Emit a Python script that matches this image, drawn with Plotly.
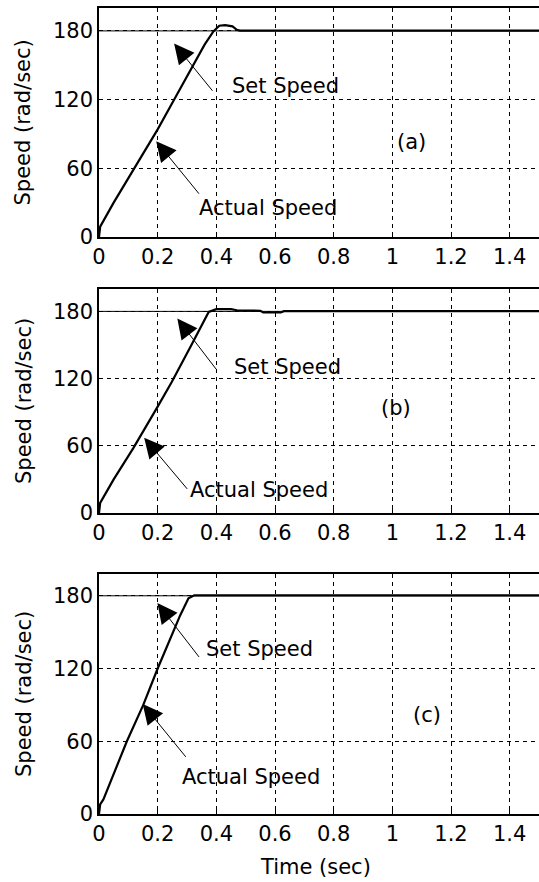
import plotly.graph_objects as go

# ---------------- data ----------------
x_ticks = [0, 0.2, 0.4, 0.6, 0.8, 1, 1.2, 1.4]
x_tick_labels = ["0", "0.2", "0.4", "0.6", "0.8", "1", "1.2", "1.4"]
y_ticks = [0, 60, 120, 180]
y_tick_labels = ["0", "60", "120", "180"]

set_time = [0, 1.5]
set_speed = [180, 180]

a_time = [0, 0.004, 0.05, 0.117, 0.2, 0.254, 0.311, 0.36, 0.39, 0.397, 0.41, 0.43, 0.455, 0.47, 0.48, 1.5]
a_speed = [0, 9, 30, 59, 94, 119, 146, 168, 179.5, 181, 184.5, 185, 184, 181, 180.2, 180.2]

b_time = [0, 0.004, 0.05, 0.117, 0.2, 0.248, 0.311, 0.35, 0.374, 0.4, 0.45, 0.47, 0.55, 0.56, 0.62, 0.63, 1.5]
b_speed = [0, 9, 30, 58, 95, 117, 148, 167, 179.5, 182, 182, 181, 180.5, 179, 179, 180.2, 180.2]

c_time = [0, 0.004, 0.015, 0.095, 0.151, 0.2, 0.277, 0.305, 0.325, 1.5]
c_speed = [0, 8, 12, 60, 90, 120, 164, 178, 180.4, 180.4]

panel_labels = ["(a)", "(b)", "(c)"]
panel_label_pos = [(1.067, 82.6), (1.012, 94), (1.117, 81.6)]
# arrow tip (x, y), arrow tail (ax, ay), text position (tx, ty)
set_arrows = [((0.256, 169), (0.391, 126.4), (0.448, 132)),
              ((0.267, 173.6), (0.403, 127.2), (0.453, 130)),
              ((0.199, 174), (0.345, 128.3), (0.357, 136))]
act_arrows = [((0.195, 83.7), (0.345, 36.5), (0.334, 25.2)),
              ((0.154, 67.2), (0.305, 20.2), (0.305, 20.2)),
              ((0.149, 90.7), (0.300, 45.9), (0.277, 30.8))]

series = [(a_time, a_speed), (b_time, b_speed), (c_time, c_speed)]
y_ranges = [[0, 200], [0, 200], [0, 198]]
domains = [[0.7159, 1.0], [0.3734, 0.6514], [0.0, 0.2978]]

FONT = "DejaVu Sans"
FS = 21

fig = go.Figure()
annotations = []
for i in range(3):
    xa = "x" if i == 0 else f"x{i+1}"
    ya = "y" if i == 0 else f"y{i+1}"
    t, s = series[i]
    fig.add_trace(go.Scatter(x=set_time, y=set_speed, mode="lines",
                             line=dict(color="black", width=1),
                             xaxis=xa, yaxis=ya, showlegend=False, hoverinfo="skip"))
    fig.add_trace(go.Scatter(x=t, y=s, mode="lines",
                             line=dict(color="black", width=2.2),
                             xaxis=xa, yaxis=ya, showlegend=False))
    axis_common = dict(showgrid=True, gridcolor="black", gridwidth=1, griddash="4px,4px",
                       zeroline=False, showline=True, linecolor="black", linewidth=1.5,
                       ticks="inside", ticklen=4, tickcolor="black",
                       tickfont=dict(family=FONT, size=FS, color="black"))
    xkey = "xaxis" if i == 0 else f"xaxis{i+1}"
    ykey = "yaxis" if i == 0 else f"yaxis{i+1}"
    fig.update_layout({
        xkey: dict(axis_common, domain=[0, 1], anchor=ya, range=[0, 1.5],
                   tickvals=x_ticks, ticktext=x_tick_labels, mirror="ticks"),
        ykey: dict(axis_common, domain=domains[i], anchor=xa, range=y_ranges[i],
                   tickvals=y_ticks, ticktext=y_tick_labels, mirror=False),
    })
    # panel label
    px, py = panel_label_pos[i]
    annotations.append(dict(x=px, y=py, xref=xa, yref=ya, text=panel_labels[i],
                            showarrow=False, font=dict(family=FONT, size=FS, color="black")))
    # arrows + texts
    for (tip, tail, tpos), label in [(set_arrows[i], "Set Speed"), (act_arrows[i], "Actual Speed")]:
        annotations.append(dict(x=tip[0], y=tip[1], ax=tail[0], ay=tail[1],
                                xref=xa, yref=ya, axref=xa, ayref=ya, text="",
                                showarrow=True, arrowhead=2, arrowsize=4, arrowwidth=1,
                                arrowcolor="black"))
        annotations.append(dict(x=tpos[0], y=tpos[1], xref=xa, yref=ya, text=label,
                                xanchor="left", yanchor="middle", showarrow=False,
                                font=dict(family=FONT, size=FS, color="black")))
    # y title
    annotations.append(dict(x=-0.1705, y=sum(domains[i]) / 2, xref="paper", yref="paper",
                            text="Speed (rad/sec)", textangle=-90, showarrow=False,
                            xanchor="center", yanchor="middle",
                            font=dict(family=FONT, size=FS, color="black")))

annotations.append(dict(x=0.493, y=-0.0658, xref="paper", yref="paper", text="Time (sec)",
                        showarrow=False, xanchor="center", yanchor="middle",
                        font=dict(family=FONT, size=FS, color="black")))

fig.update_layout(width=539, height=882, autosize=False,
                  margin=dict(l=99, r=0, t=8, b=68),
                  paper_bgcolor="white", plot_bgcolor="white",
                  annotations=annotations, showlegend=False)

fig.write_html("out.html")
